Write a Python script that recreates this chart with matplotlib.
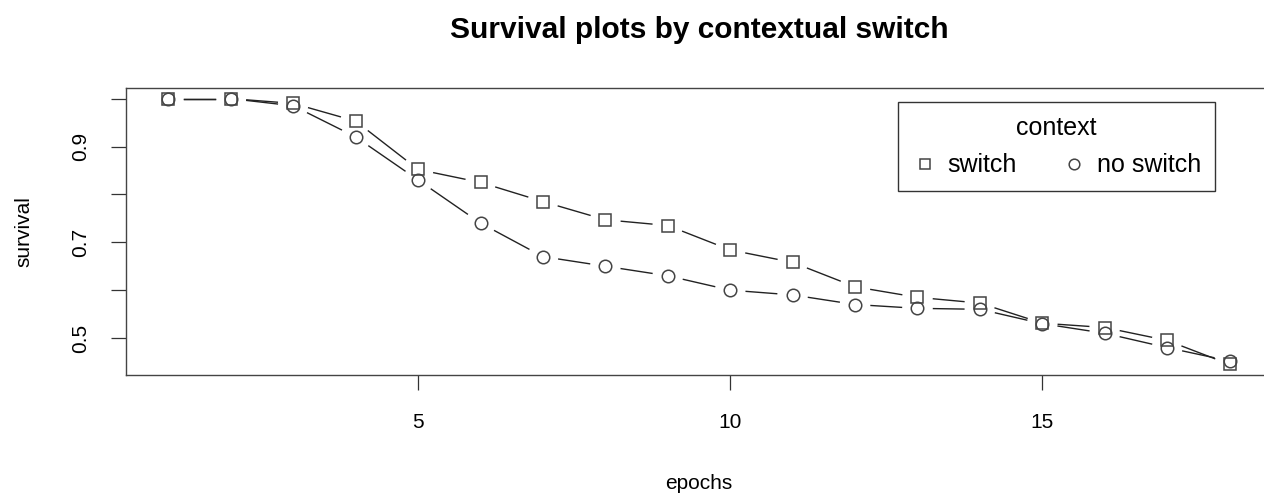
import numpy as np
import matplotlib
matplotlib.use("Agg")
import matplotlib.pyplot as plt

plt.rcParams['font.family'] = ['Liberation Sans', 'DejaVu Sans']

epochs = np.arange(1, 19)
switch = [1.0, 1.0, 0.99, 0.953, 0.852, 0.825, 0.785, 0.747, 0.735,
          0.684, 0.658, 0.607, 0.585, 0.573, 0.531, 0.522, 0.495, 0.445]
no_switch = [1.0, 1.0, 0.985, 0.92, 0.83, 0.74, 0.67, 0.65, 0.63,
             0.60, 0.59, 0.57, 0.562, 0.56, 0.53, 0.51, 0.48, 0.452]

xticks = [5, 10, 15]
yticks = [0.5, 0.6, 0.7, 0.8, 0.9, 1.0]
ylabels = ['0.5', '', '0.7', '', '0.9', '']

W, H = 1264, 499
fig = plt.figure(figsize=(W / 100, H / 100), dpi=100)
# plot region: left 126px, right 1272px (clipped), top 88px, bottom 375px
ax = fig.add_axes([126 / W, (H - 375) / H, (1272 - 126) / W, (375 - 88) / H])
ax.set_xlim(0.32, 18.68)
ax.set_ylim(0.4228, 1.0222)

lc = '#222222'
mc = '#444444'


def gapped(x, y, gap=16):
    # like R type="b": segments stop short of each point (gap in pixels)
    pts = ax.transData.transform(np.column_stack([x, y]))
    inv = ax.transData.inverted()
    for p0, p1 in zip(pts[:-1], pts[1:]):
        d = p1 - p0
        L = np.hypot(*d)
        if L <= 2 * gap:
            continue
        u = d / L
        seg = inv.transform(np.array([p0 + gap * u, p1 - gap * u]))
        ax.plot(seg[:, 0], seg[:, 1], '-', color=lc, lw=1.0, zorder=1)


gapped(epochs, switch)
gapped(epochs, no_switch)
h1, = ax.plot(epochs, switch, 's', ms=8.5, mfc='none', mec=mc, mew=1.1, zorder=5)
h2, = ax.plot(epochs, no_switch, 'o', ms=9, mfc='none', mec=mc, mew=1.1, zorder=5)

ax.set_xticks(xticks)
ax.set_yticks(yticks)
ax.set_yticklabels(ylabels, rotation=90, va='center')
ax.tick_params(axis='both', direction='out', length=10.5, width=0.9,
               color='#333333', labelsize=15)
ax.tick_params(axis='x', pad=17)
ax.tick_params(axis='y', pad=15.5)

for s in ax.spines.values():
    s.set_color('#444444')
    s.set_linewidth(1.0)

ax.set_xlabel('epochs', fontsize=15, labelpad=30)
ax.set_ylabel('survival', fontsize=15, labelpad=27)
fig.text((126 + 1272) / 2 / W, 1 - 30 / H, 'Survival plots by contextual switch',
         fontsize=21.5, fontweight='bold', ha='center', va='center')

leg = ax.legend([h1, h2], ['switch', 'no switch'], title='context', ncol=2,
                loc='upper right', bbox_to_anchor=(1215 / W, 1 - 102 / H),
                bbox_transform=fig.transFigure, borderaxespad=0,
                fontsize=18, title_fontsize=18, fancybox=False,
                edgecolor='#333333', framealpha=1, handlelength=1.0,
                handletextpad=0.42, columnspacing=1.78, borderpad=0.55,
                labelspacing=0.55, markerscale=0.85)
leg.get_frame().set_linewidth(1.0)

fig.savefig('out.png', dpi=100)
